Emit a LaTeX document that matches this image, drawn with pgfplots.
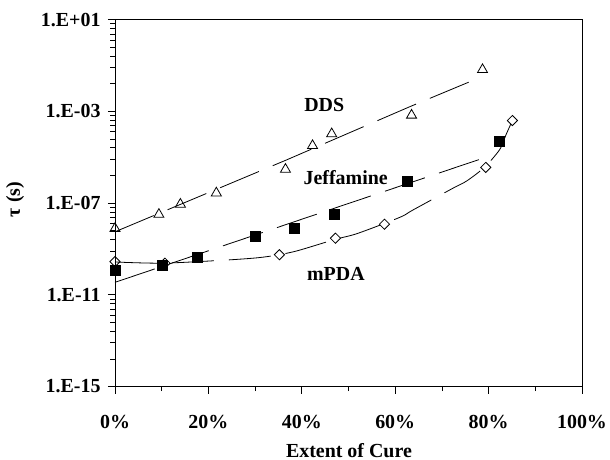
\documentclass[border=0pt]{standalone}
\usepackage{pgfplots}
\pgfplotsset{compat=1.18}
\usepackage{fontspec}
\setmainfont{Liberation Serif}
\begin{document}
\begin{tikzpicture}
\useasboundingbox (-115bp,-73.5bp) rectangle (495bp,386.5bp);
\begin{axis}[
 scale only axis, width=467bp, height=366.8bp,
 at={(0,0)}, anchor=south west,
 xmin=0, xmax=100, ymode=log, ymin=1e-15, ymax=10,
 axis line style={line width=0.8bp},
 xtick={0,20,40,60,80,100}, xticklabels={0\%,20\%,40\%,60\%,80\%,100\%},
 minor xtick={10,30,50,70,90},
 ytick={1e-15,1e-11,1e-7,1e-3,10},
 yticklabels={1.E-15,1.E-11,1.E-07,1.E-03,1.E+01},
 minor ytick={1.6e-14,8.1e-14,2.56e-13,6.25e-13,1.296e-12,2.401e-12,4.096e-12,6.561e-12,
   1.6e-10,8.1e-10,2.56e-9,6.25e-9,1.296e-8,2.401e-8,4.096e-8,6.561e-8,
   1.6e-6,8.1e-6,2.56e-5,6.25e-5,1.296e-4,2.401e-4,4.096e-4,6.561e-4,
   1.6e-2,8.1e-2,0.256,0.625,1.296,2.401,4.096,6.561},
 tick align=outside, tick pos=left,
 major tick length=7bp, minor tick length=4.5bp,
 every tick/.style={black, line width=0.8bp},
 ticklabel style={font=\fontsize{20}{23}\selectfont\bfseries},
 xticklabel style={anchor=base, yshift=-35bp},
 yticklabel style={xshift=-4bp},
 every axis x label/.style={at={(axis description cs:0.501,-0.1925)}, anchor=base, inner sep=0pt, font=\fontsize{20}{23}\selectfont\bfseries},
 every axis y label/.style={at={(axis description cs:-0.2141,0.51)}, rotate=90, anchor=center, font=\fontsize{20}{23}\selectfont\bfseries},
 xlabel={Extent of Cure}, ylabel={τ (s)},
 clip=false,
]
% DDS fit line
\addplot[black, no marks, line width=0.8bp, dash pattern=on 42bp off 15bp] coordinates {
 (0,5.6e-9) (36.7,7.6e-6) (63.3,1.66e-3) (78.3,3.1e-2)};
% Jeffamine fit line
\addplot[black, no marks, line width=0.8bp, dash pattern=on 42bp off 15bp] coordinates {
 (0,3.5e-11) (47.5,6.5e-8) (80.9,1.26e-5)};
% mPDA fit curve
\addplot[black, no marks, smooth, line width=0.8bp, dash pattern=on 42bp off 15bp] coordinates {
 (0,2.7e-10) (10.1,2.4e-10) (22.9,3.2e-10) (30.4,4.1e-10) (34.9,5.5e-10) (39.2,8.5e-10)
 (47.1,2.6e-9) (52.0,4.8e-9) (61.0,2.4e-8) (63.8,5.0e-8) (72.4,4.5e-7) (75.4,9.5e-7)
 (79.2,3.8e-6) (82.4,2.2e-5) (83.7,9.3e-5) (85.1,4.0e-4)};
% DDS data
\addplot[black, only marks, mark=triangle, mark size=5.8bp, mark options={line width=0.8bp, solid}] coordinates {
 (0,7.8e-9) (9.4,3.2e-8) (14.0,8.9e-8) (21.7,2.75e-7) (36.5,2.95e-6) (42.3,3.2e-5)
 (46.4,1.05e-4) (63.5,6.8e-4) (78.7,6.6e-2)};
% mPDA data
\addplot[black, only marks, mark=square, mark size=3.6bp, mark options={line width=0.8bp, rotate=45, solid}] coordinates {
 (0,2.8e-10) (10.7,2.4e-10) (35.2,5.6e-10) (47.2,2.95e-9) (57.7,1.2e-8) (79.4,3.6e-6) (85.1,4.0e-4)};
% Jeffamine data
\addplot[black, only marks, mark=square*, mark size=5bp, mark options={line width=0.4bp, solid, fill=black}] coordinates {
 (0,1.2e-10) (10.1,2.0e-10) (17.7,4.2e-10) (30.1,3.7e-9) (38.3,7.9e-9) (47.0,3.2e-8)
 (62.6,8.7e-7) (82.2,4.8e-5)};
\node[font=\fontsize{20}{23}\selectfont\bfseries] at (axis cs:44.8,1.9e-3) {DDS};
\node[font=\fontsize{20}{23}\selectfont\bfseries] at (axis cs:49.4,1.26e-6) {Jeffamine};
\node[font=\fontsize{20}{23}\selectfont\bfseries] at (axis cs:47.3,8.3e-11) {mPDA};
\end{axis}
\end{tikzpicture}
\end{document}
